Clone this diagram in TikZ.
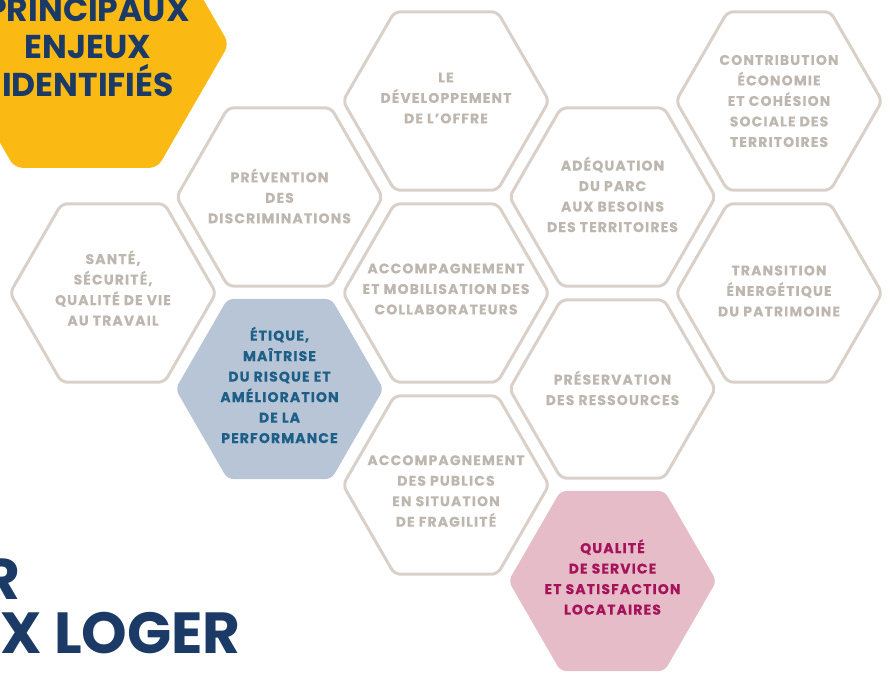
\documentclass[tikz,border=0pt]{standalone}
\usepackage{fontspec}
\setmainfont{Poppins}
\newfontfamily\hexfont{Poppins}[LetterSpace=8,FakeBold=0.4]
\usetikzlibrary{shapes.geometric}

\definecolor{hexline}{HTML}{D9D1C9}
\definecolor{hextext}{HTML}{BEB7B0}
\definecolor{bluefill}{HTML}{B7C5D6}
\definecolor{bluetext}{HTML}{1E5F87}
\definecolor{pinkfill}{HTML}{E6BCC8}
\definecolor{pinktext}{HTML}{A5145A}
\definecolor{sun}{HTML}{FBBA13}
\definecolor{navy}{HTML}{1C3A66}

\begin{document}
\begin{tikzpicture}[x=1pt,y=-1pt,
  hexcell/.style={regular polygon, regular polygon sides=6, minimum size=206pt,
    inner sep=0pt, rounded corners=6pt},
  outlined/.style={hexcell, draw=hexline, line width=3pt},
  filled/.style={hexcell, fill=#1, minimum size=208pt},
  hexlabel/.style={font=\hexfont\bfseries\fontsize{14}{20.5}\selectfont,
    align=center, text=hextext, inner sep=0pt},
  bigtitle/.style={font=\bfseries\fontsize{33}{37.5}\selectfont, text=navy,
    align=center, inner sep=0pt},
  covertitle/.style={font=\bfseries\fontsize{58}{60}\selectfont, text=navy,
    anchor=base east, inner sep=0pt}]
\useasboundingbox (0,0) rectangle (891,672);
\clip (0,0) rectangle (891,672);

% title cell
\node[hexcell, fill=sun, minimum size=286pt, rounded corners=8pt] (head) at (86,44) {};
\node[bigtitle] (headtxt) at (88,47) {PRINCIPAUX\\ENJEUX\\IDENTIFIÉS};

% honeycomb of themes
\node[outlined] (sante)   at (113,293) {};
\node[outlined] (prev)    at (279.5,197) {};
\node[filled=bluefill] (etique) at (279.5,389) {};
\node[outlined] (dev)     at (446,101) {};
\node[outlined] (mobil)   at (446,293) {};
\node[outlined] (publics) at (446,485) {};
\node[outlined] (adeq)    at (612.5,197) {};
\node[outlined] (preserv) at (612.5,389) {};
\node[filled=pinkfill] (qualite) at (612.5,581) {};
\node[outlined] (contrib) at (779,101) {};
\node[outlined] (transit) at (779,293) {};

% labels
\node[hexlabel] (santetxt) at (113,288) {SANTÉ,\\SÉCURITÉ,\\QUALITÉ DE VIE\\AU TRAVAIL};
\node[hexlabel] (prevtxt) at (279.5,196) {PRÉVENTION\\DES\\DISCRIMINATIONS};
\node[hexlabel, text=bluetext] (etiquetxt) at (279.5,385) {ÉTIQUE,\\MAÎTRISE\\DU RISQUE ET\\AMÉLIORATION\\DE LA\\PERFORMANCE};
\node[hexlabel] (devtxt) at (446,98) {LE\\DÉVELOPPEMENT\\DE L’OFFRE};
\node[hexlabel] (mobiltxt) at (446,289) {ACCOMPAGNEMENT\\ET MOBILISATION DES\\COLLABORATEURS};
\node[hexlabel] (publicstxt) at (446,491) {ACCOMPAGNEMENT\\DES PUBLICS\\EN SITUATION\\DE FRAGILITÉ};
\node[hexlabel] (adeqtxt) at (612.5,194.5) {ADÉQUATION\\DU PARC\\AUX BESOINS\\DES TERRITOIRES};
\node[hexlabel] (preservtxt) at (612.5,388) {PRÉSERVATION\\DES RESSOURCES};
\node[hexlabel, text=pinktext] (qualitetxt) at (612.5,577) {QUALITÉ\\DE SERVICE\\ET SATISFACTION\\LOCATAIRES};
\node[hexlabel] (contribtxt) at (779,101) {CONTRIBUTION\\ÉCONOMIE\\ET COHÉSION\\SOCIALE DES\\TERRITOIRES};
\node[hexlabel] (transittxt) at (779,291) {TRANSITION\\ÉNERGÉTIQUE\\DU PATRIMOINE};

% cover title, lower left
\node[covertitle] (titleA) at (21,599) {R};
\node[covertitle] (titleB) at (241,653) {X LOGER};
\end{tikzpicture}
\end{document}
